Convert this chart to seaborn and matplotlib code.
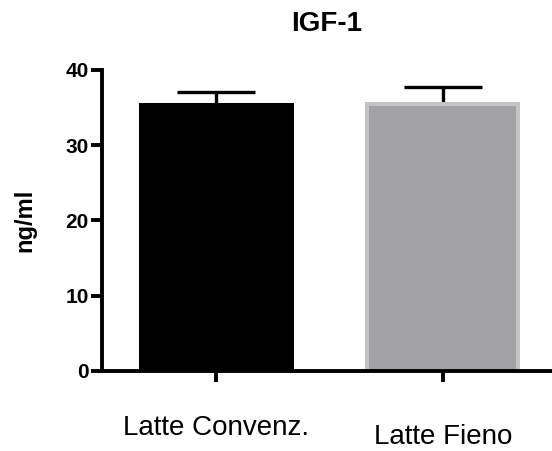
import matplotlib
matplotlib.use("Agg")
import matplotlib.pyplot as plt
import matplotlib.transforms as mtransforms
import seaborn as sns
import pandas as pd

categories = ["Latte Convenz.", "Latte Fieno"]
means = [35.37, 35.42]
sem = [1.63, 2.35]
bar_colors = ["#000000", "#A2A1A6"]
edge_colors = ["#000000", "#C3C3C5"]
yticks = [0, 10, 20, 30, 40]

sns.set_style("white")
plt.rcParams["font.family"] = ["Liberation Sans", "DejaVu Sans"]
plt.rcParams["text.color"] = "black"
plt.rcParams["axes.labelcolor"] = "black"
plt.rcParams["xtick.color"] = "black"
plt.rcParams["ytick.color"] = "black"

df = pd.DataFrame({"group": categories, "value": means})

fig = plt.figure(figsize=(5.52, 4.51), dpi=100)
ax = fig.add_axes([102 / 552, 80.3 / 451, 450 / 552, 300.8 / 451])

sns.barplot(data=df, x="group", y="value", hue="group", palette=bar_colors,
            width=0.666, legend=False, ax=ax, errorbar=None, zorder=3)
for patch, ec in zip(ax.patches, edge_colors):
    patch.set_edgecolor(ec)
    patch.set_linewidth(2.9)
    patch.set_joinstyle("miter")

ax.errorbar(range(len(categories)), means, yerr=sem, fmt="none", ecolor="black",
            elinewidth=2.4, capsize=28, capthick=2.4, zorder=2)

ax.set_xlim(-0.503, 1.482)
ax.set_ylim(0, 40)
ax.set_yticks(yticks)
ax.set_yticklabels([str(t) for t in yticks], fontsize=15, fontweight="bold", color="black")
ax.set_xticks(range(len(categories)))
ax.set_xticklabels(categories, fontsize=20, color="black")
ax.set_xlabel("")
ax.set_ylabel("ng/ml", fontsize=17, fontweight="bold", labelpad=21, color="black")
ax.set_title("IGF-1", fontsize=20, fontweight="bold", pad=28, color="black")

for side in ["top", "right"]:
    ax.spines[side].set_visible(False)
for side in ["left", "bottom"]:
    ax.spines[side].set_linewidth(2.8)
    ax.spines[side].set_color("black")
    ax.spines[side].set_capstyle("projecting")
    ax.spines[side].set_zorder(5)

ax.tick_params(axis="y", direction="out", length=8, width=2.8, pad=1.5, left=True)
ax.tick_params(axis="x", direction="out", length=8, width=2.8, pad=24, bottom=True)

lbls = ax.get_xticklabels()
offset = mtransforms.ScaledTranslation(0, -9 / 100, fig.dpi_scale_trans)
lbls[1].set_transform(lbls[1].get_transform() + offset)

fig.savefig("out.png", dpi=100)
